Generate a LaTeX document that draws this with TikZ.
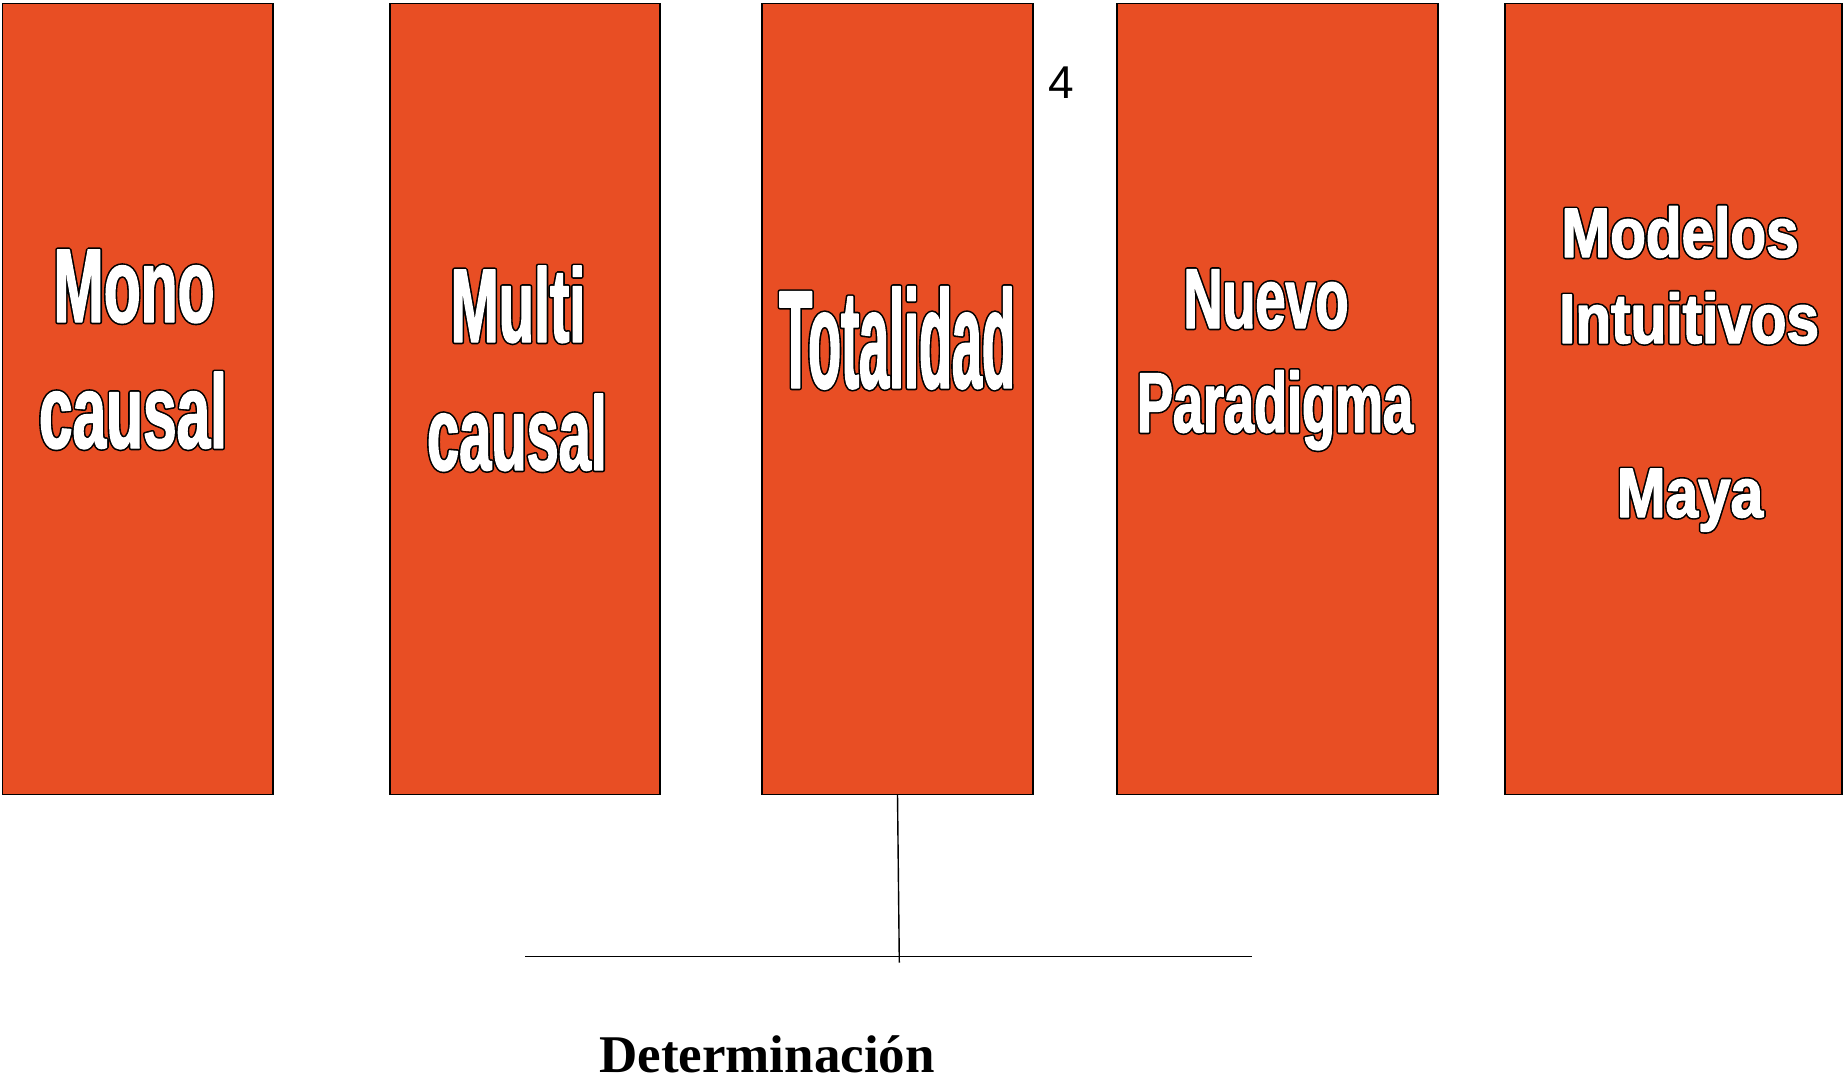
\documentclass[tikz,border=0pt]{standalone}
\usepackage{fontspec}
\setmainfont{Liberation Sans}
\newfontfamily\fA[FakeStretch=0.575]{Liberation Sans Bold}
\newfontfamily\fB[FakeStretch=0.55]{Liberation Sans Bold}
\newfontfamily\fC[FakeStretch=0.385]{Liberation Sans Bold}
\newfontfamily\fD[FakeStretch=0.635]{Liberation Sans Bold}
\newfontfamily\fE[FakeStretch=0.835]{Liberation Sans Bold}
\newfontfamily\fSerif{Liberation Serif Bold}
\definecolor{boxorange}{RGB}{232,78,36}
\newcommand\outl[1]{\rlap{\special{pdf:literal direct 2 Tr 4.6 w 0 G 0 g 1 j}#1}\special{pdf:literal direct 2 Tr 1.4 w 1 G 1 g 1 j}#1\special{pdf:literal direct 0 Tr}}
\begin{document}
\begin{tikzpicture}[x=1pt,y=-1pt,
  colbox/.style={draw=black, line width=1.3pt, fill=boxorange, rectangle, inner sep=0pt, outer sep=0pt},
  big/.style={anchor=base, inner sep=0pt, text=white},
  conn/.style={draw=black, line width=1.4pt}]
\useasboundingbox (0,0) rectangle (1843,1081);
\node[colbox, minimum width=270.3pt, minimum height=791pt] (b1) at (137.85,399) {};
\node[colbox, minimum width=270pt, minimum height=791pt] (b2) at (525,399) {};
\node[colbox, minimum width=271pt, minimum height=791pt] (b3) at (897.5,399) {};
\node[colbox, minimum width=321pt, minimum height=791pt] (b4) at (1277.5,399) {};
\node[colbox, minimum width=337pt, minimum height=791pt] (b5) at (1673.5,399) {};
% box 1
\node[big, font=\fA\fontsize{105}{126}\selectfont] (t1a) at (134,322) {\outl{Mono}};
\node[big, font=\fA\fontsize{105}{126}\selectfont] (t1b) at (133,448) {\outl{causal}};
% box 2
\node[big, font=\fB\fontsize{105}{126}\selectfont] (t2a) at (518,342) {\outl{Multi}};
\node[big, font=\fB\fontsize{105}{126}\selectfont] (t2b) at (517,470) {\outl{causal}};
% box 3
\node[big, font=\fC\fontsize{140}{160}\selectfont] (t3) at (897,388) {\outl{Totalidad}};
% box 4
\node[big, font=\fD\fontsize{85}{100}\selectfont] (t4a) at (1266,328) {\outl{Nuevo}};
\node[big, font=\fD\fontsize{85}{100}\selectfont] (t4b) at (1275,432) {\outl{Paradigma}};
% box 5
\node[big, font=\fE\fontsize{70}{86}\selectfont] (t5a) at (1680,257) {\outl{Modelos}};
\node[big, font=\fE\fontsize{70}{86}\selectfont] (t5b) at (1689,343) {\outl{Intuitivos}};
\node[big, font=\fE\fontsize{70}{86}\selectfont] (t5c) at (1690,517) {\outl{Maya}};
% page number
\node[anchor=base, inner sep=0pt, font=\fontsize{46}{50}\selectfont] (num) at (1061,98) {4};
% connectors
\coordinate (vb) at (899.3,962.7);
\coordinate (hl) at (525,956.7);
\coordinate (hr) at (1252,956.7);
\draw[conn] (b3.south) -- (vb);
\draw[conn] (hl) -- (hr);
\node[anchor=base, inner sep=0pt, font=\fSerif\fontsize{53}{60}\selectfont] (det) at (767,1072) {Determinación};
\end{tikzpicture}
\end{document}
